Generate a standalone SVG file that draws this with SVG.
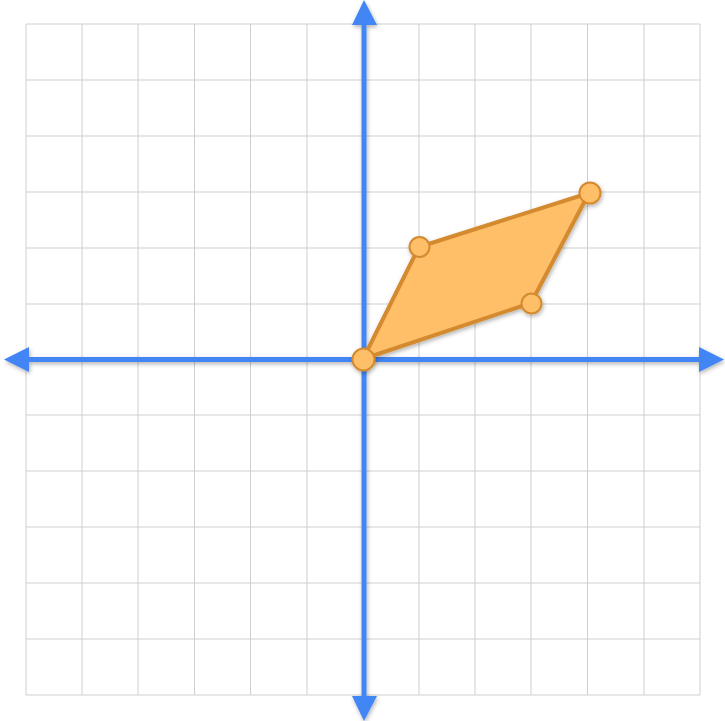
<svg xmlns="http://www.w3.org/2000/svg" width="725" height="721" viewBox="0 0 725 721">
<defs>
<style>
.grid line{stroke:#cfcfcf;stroke-width:1}
.axis{stroke:#4285f4;stroke-width:5;fill:none}
.ah{fill:#4285f4}
.pt{fill:#ffbf69;stroke:#d48a2e;stroke-width:2}
</style>
<filter id="sh" x="-20%" y="-20%" width="140%" height="140%">
<feDropShadow dx="1" dy="2" stdDeviation="2" flood-color="#000" flood-opacity="0.3"/>
</filter>
</defs>
<rect width="725" height="721" fill="#fff"/>
<g class="grid">
<line x1="26" y1="24" x2="26" y2="695"/>
<line x1="82" y1="24" x2="82" y2="695"/>
<line x1="138" y1="24" x2="138" y2="695"/>
<line x1="194.5" y1="24" x2="194.5" y2="695"/>
<line x1="250.5" y1="24" x2="250.5" y2="695"/>
<line x1="307" y1="24" x2="307" y2="695"/>
<line x1="419" y1="24" x2="419" y2="695"/>
<line x1="475" y1="24" x2="475" y2="695"/>
<line x1="531" y1="24" x2="531" y2="695"/>
<line x1="587.5" y1="24" x2="587.5" y2="695"/>
<line x1="644" y1="24" x2="644" y2="695"/>
<line x1="700" y1="24" x2="700" y2="695"/>
<line x1="26" y1="24" x2="700" y2="24"/>
<line x1="26" y1="80" x2="700" y2="80"/>
<line x1="26" y1="136" x2="700" y2="136"/>
<line x1="26" y1="192" x2="700" y2="192"/>
<line x1="26" y1="248" x2="700" y2="248"/>
<line x1="26" y1="304" x2="700" y2="304"/>
<line x1="26" y1="415" x2="700" y2="415"/>
<line x1="26" y1="471" x2="700" y2="471"/>
<line x1="26" y1="527" x2="700" y2="527"/>
<line x1="26" y1="583" x2="700" y2="583"/>
<line x1="26" y1="639" x2="700" y2="639"/>
<line x1="26" y1="695" x2="700" y2="695"/>
</g>
<g id="axes" filter="url(#sh)">
<line class="axis" x1="364" y1="20" x2="364" y2="701"/>
<line class="axis" x1="25" y1="359.5" x2="701" y2="359.5"/>
<polygon class="ah" points="364,0 352,25 377,25"/>
<polygon class="ah" points="364,721 352,696 377,696"/>
<polygon class="ah" points="4,359.5 29,347 29,372"/>
<polygon class="ah" points="724,359.5 699,347 699,372"/>
</g>
<g id="shape" filter="url(#sh)">
<polygon points="363,359 419,247 589,193 531,303" fill="#ffbf69" stroke="#d48a2e" stroke-width="4" stroke-linejoin="round"/>
<circle class="pt" cx="363.5" cy="359.5" r="11"/>
<circle class="pt" cx="419.5" cy="247" r="10"/>
<circle class="pt" cx="590" cy="193" r="10.5"/>
<circle class="pt" cx="531.5" cy="303.5" r="10"/>
</g>
</svg>
